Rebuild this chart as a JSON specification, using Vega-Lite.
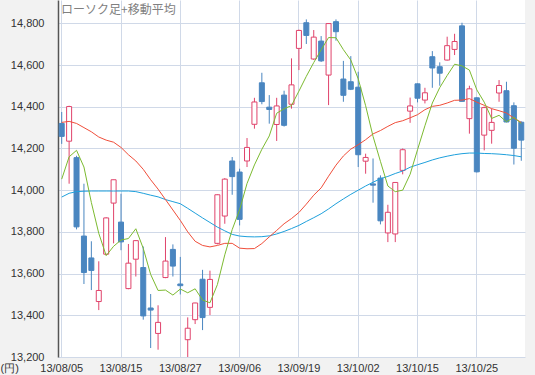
{
  "$schema": "https://vega.github.io/schema/vega-lite/v6.json",
  "width": 467,
  "height": 357,
  "autosize": {"type": "none"},
  "padding": {"left": 58, "top": 0, "right": 10, "bottom": 18},
  "background": "#f2f2f2",
  "config": {
    "view": {"fill": "#ffffff", "stroke": null},
    "axis": {"labelFont": "Liberation Sans", "labelFontSize": 11, "labelColor": "#333333", "gridColor": "#d0d9e8", "gridWidth": 1, "ticks": false}
  },
  "title": {"text": "ローソク足+移動平均", "anchor": "start", "frame": "group", "font": "Noto Sans CJK JP", "fontSize": 12, "fontWeight": "normal", "color": "#808080", "offset": -17, "dx": 3},
  "data": {"values": [
    {"d":"13/08/05","o":14320,"h":14375,"l":14222,"c":14258,"m5":14053,"m25":14325,"m75":13967},
    {"d":"13/08/06","o":14235,"h":14405,"l":14031,"c":14401,"m5":14160,"m25":14330,"m75":13985},
    {"d":"13/08/07","o":14156,"h":14165,"l":13812,"c":13824,"m5":14191,"m25":14320,"m75":13993},
    {"d":"13/08/08","o":13780,"h":14031,"l":13550,"c":13605,"m5":14111,"m25":14300,"m75":13995},
    {"d":"13/08/09","o":13675,"h":13755,"l":13521,"c":13615,"m5":13941,"m25":14280,"m75":13996},
    {"d":"13/08/12","o":13466,"h":13659,"l":13425,"c":13519,"m5":13793,"m25":14255,"m75":13996},
    {"d":"13/08/13","o":13693,"h":13870,"l":13690,"c":13867,"m5":13686,"m25":14240,"m75":13996},
    {"d":"13/08/14","o":13938,"h":14050,"l":13745,"c":14050,"m5":13731,"m25":14230,"m75":13996},
    {"d":"13/08/15","o":13847,"h":13983,"l":13712,"c":13752,"m5":13761,"m25":14205,"m75":13996},
    {"d":"13/08/16","o":13528,"h":13742,"l":13525,"c":13650,"m5":13768,"m25":14170,"m75":13996},
    {"d":"13/08/19","o":13669,"h":13760,"l":13586,"c":13758,"m5":13815,"m25":14140,"m75":13993},
    {"d":"13/08/20","o":13629,"h":13730,"l":13379,"c":13397,"m5":13721,"m25":14100,"m75":13985},
    {"d":"13/08/21","o":13435,"h":13502,"l":13243,"c":13425,"m5":13596,"m25":14050,"m75":13976},
    {"d":"13/08/22","o":13313,"h":13448,"l":13235,"c":13366,"m5":13519,"m25":14005,"m75":13968},
    {"d":"13/08/23","o":13581,"h":13775,"l":13578,"c":13660,"m5":13521,"m25":13955,"m75":13955},
    {"d":"13/08/26","o":13716,"h":13740,"l":13586,"c":13636,"m5":13497,"m25":13905,"m75":13945},
    {"d":"13/08/27","o":13550,"h":13680,"l":13500,"c":13542,"m5":13526,"m25":13855,"m75":13935},
    {"d":"13/08/28","o":13283,"h":13390,"l":13188,"c":13338,"m5":13508,"m25":13800,"m75":13913},
    {"d":"13/08/29","o":13379,"h":13460,"l":13358,"c":13459,"m5":13527,"m25":13755,"m75":13890},
    {"d":"13/08/30","o":13573,"h":13618,"l":13329,"c":13389,"m5":13473,"m25":13735,"m75":13867},
    {"d":"13/09/02","o":13438,"h":13614,"l":13401,"c":13572,"m5":13460,"m25":13728,"m75":13845},
    {"d":"13/09/03","o":13745,"h":13980,"l":13740,"c":13978,"m5":13547,"m25":13735,"m75":13823},
    {"d":"13/09/04","o":13876,"h":14058,"l":13839,"c":14053,"m5":13690,"m25":13745,"m75":13805},
    {"d":"13/09/05","o":14140,"h":14159,"l":13978,"c":14065,"m5":13811,"m25":13745,"m75":13788},
    {"d":"13/09/06","o":14087,"h":14103,"l":13831,"c":13860,"m5":13906,"m25":13722,"m75":13780},
    {"d":"13/09/09","o":14140,"h":14250,"l":14111,"c":14205,"m5":14032,"m25":13719,"m75":13777},
    {"d":"13/09/10","o":14316,"h":14443,"l":14295,"c":14423,"m5":14121,"m25":13720,"m75":13776},
    {"d":"13/09/11","o":14515,"h":14563,"l":14412,"c":14425,"m5":14196,"m25":13744,"m75":13777},
    {"d":"13/09/12","o":14398,"h":14456,"l":14319,"c":14387,"m5":14260,"m25":13776,"m75":13781},
    {"d":"13/09/13","o":14315,"h":14443,"l":14236,"c":14404,"m5":14369,"m25":13807,"m75":13790},
    {"d":"13/09/17","o":14456,"h":14477,"l":14305,"c":14311,"m5":14390,"m25":13839,"m75":13802},
    {"d":"13/09/18","o":14412,"h":14632,"l":14391,"c":14505,"m5":14406,"m25":13864,"m75":13816},
    {"d":"13/09/19","o":14680,"h":14770,"l":14576,"c":14766,"m5":14475,"m25":13893,"m75":13831},
    {"d":"13/09/20","o":14803,"h":14819,"l":14701,"c":14742,"m5":14546,"m25":13933,"m75":13850},
    {"d":"13/09/24","o":14629,"h":14768,"l":14625,"c":14734,"m5":14612,"m25":13976,"m75":13868},
    {"d":"13/09/25","o":14715,"h":14739,"l":14615,"c":14620,"m5":14673,"m25":14011,"m75":13887},
    {"d":"13/09/26","o":14552,"h":14800,"l":14408,"c":14799,"m5":14732,"m25":14067,"m75":13910},
    {"d":"13/09/27","o":14808,"h":14819,"l":14717,"c":14760,"m5":14731,"m25":14120,"m75":13935},
    {"d":"13/09/30","o":14533,"h":14620,"l":14424,"c":14455,"m5":14674,"m25":14164,"m75":13958},
    {"d":"13/10/01","o":14520,"h":14643,"l":14480,"c":14484,"m5":14624,"m25":14197,"m75":13980},
    {"d":"13/10/02","o":14494,"h":14568,"l":14111,"c":14170,"m5":14534,"m25":14218,"m75":14000},
    {"d":"13/10/03","o":14139,"h":14175,"l":14079,"c":14157,"m5":14405,"m25":14242,"m75":14020},
    {"d":"13/10/04","o":14030,"h":14152,"l":13940,"c":14024,"m5":14258,"m25":14270,"m75":14038},
    {"d":"13/10/07","o":14058,"h":14071,"l":13836,"c":13853,"m5":14138,"m25":14286,"m75":14055},
    {"d":"13/10/08","o":13795,"h":13930,"l":13751,"c":13894,"m5":14020,"m25":14306,"m75":14066},
    {"d":"13/10/09","o":13790,"h":14037,"l":13751,"c":14037,"m5":13993,"m25":14324,"m75":14080},
    {"d":"13/10/10","o":14095,"h":14200,"l":14076,"c":14194,"m5":14000,"m25":14333,"m75":14092},
    {"d":"13/10/11","o":14379,"h":14444,"l":14323,"c":14404,"m5":14076,"m25":14347,"m75":14110},
    {"d":"13/10/15","o":14510,"h":14512,"l":14421,"c":14441,"m5":14194,"m25":14362,"m75":14122},
    {"d":"13/10/16","o":14432,"h":14491,"l":14416,"c":14467,"m5":14309,"m25":14386,"m75":14133},
    {"d":"13/10/17","o":14640,"h":14667,"l":14491,"c":14586,"m5":14418,"m25":14402,"m75":14145},
    {"d":"13/10/18","o":14592,"h":14613,"l":14501,"c":14561,"m5":14492,"m25":14407,"m75":14155},
    {"d":"13/10/21","o":14624,"h":14736,"l":14622,"c":14693,"m5":14550,"m25":14418,"m75":14163},
    {"d":"13/10/22","o":14675,"h":14750,"l":14648,"c":14713,"m5":14604,"m25":14431,"m75":14170},
    {"d":"13/10/23","o":14788,"h":14803,"l":14426,"c":14426,"m5":14596,"m25":14432,"m75":14175},
    {"d":"13/10/24","o":14343,"h":14501,"l":14271,"c":14486,"m5":14576,"m25":14439,"m75":14178},
    {"d":"13/10/25","o":14443,"h":14445,"l":14085,"c":14088,"m5":14481,"m25":14422,"m75":14178},
    {"d":"13/10/28","o":14264,"h":14401,"l":14191,"c":14396,"m5":14422,"m25":14407,"m75":14176},
    {"d":"13/10/29","o":14287,"h":14391,"l":14223,"c":14325,"m5":14344,"m25":14391,"m75":14175},
    {"d":"13/10/30","o":14466,"h":14528,"l":14424,"c":14502,"m5":14359,"m25":14381,"m75":14173},
    {"d":"13/10/31","o":14477,"h":14520,"l":14326,"c":14327,"m5":14328,"m25":14370,"m75":14170},
    {"d":"13/11/01","o":14405,"h":14421,"l":14123,"c":14201,"m5":14350,"m25":14346,"m75":14166},
    {"d":"13/11/05","o":14326,"h":14330,"l":14141,"c":14240,"m5":14319,"m25":14325,"m75":14160}
  ]},
  "encoding": {
    "x": {"field": "d", "type": "ordinal", "sort": null,
      "scale": {"type": "band", "paddingInner": 0, "paddingOuter": 0},
      "axis": {"title": null, "labelAngle": 0, "grid": true, "bandPosition": 0.5, "domain": false, "labelPadding": 5,
        "values": ["13/08/05","13/08/15","13/08/27","13/09/06","13/09/19","13/10/02","13/10/15","13/10/25"]}}
  },
  "layer": [
    {
      "mark": {"type": "rule", "strokeWidth": 1, "clip": true},
      "encoding": {
        "y": {"field": "l", "type": "quantitative",
          "scale": {"domain": [13200, 14912], "zero": false, "nice": false},
          "axis": {"title": "(円)", "titleAngle": 0, "titleX": -58, "titleY": 368, "titleAlign": "left", "titleBaseline": "middle", "titleFont": "Liberation Sans", "titleFontSize": 11, "titleFontWeight": "normal", "titleColor": "#333333",
            "values": [13200,13400,13600,13800,14000,14200,14400,14600,14800], "format": ",.0f", "grid": true, "domain": true, "domainColor": "#555555", "domainWidth": 1.5, "labelPadding": 14}},
        "y2": {"field": "h"},
        "color": {"condition": {"test": "datum.c > datum.o", "value": "#e0436b"}, "value": "#4a86c0"}
      }
    },
    {
      "mark": {"type": "bar", "size": 5, "strokeWidth": 1, "clip": true},
      "encoding": {
        "y": {"field": "o", "type": "quantitative"},
        "y2": {"field": "c"},
        "fill": {"condition": {"test": "datum.c > datum.o", "value": "#ffffff"}, "value": "#4a86c0"},
        "stroke": {"condition": {"test": "datum.c > datum.o", "value": "#e0436b"}, "value": "#4a86c0"}
      }
    },
    {
      "mark": {"type": "line", "color": "#1ea0dc", "strokeWidth": 1},
      "encoding": {"y": {"field": "m75", "type": "quantitative"}}
    },
    {
      "mark": {"type": "line", "color": "#f04e3a", "strokeWidth": 1},
      "encoding": {"y": {"field": "m25", "type": "quantitative"}}
    },
    {
      "mark": {"type": "line", "color": "#7cba30", "strokeWidth": 1},
      "encoding": {"y": {"field": "m5", "type": "quantitative"}}
    }
  ]
}
